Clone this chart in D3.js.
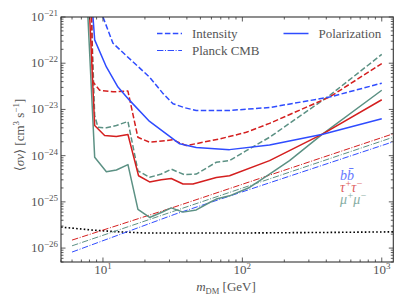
<!DOCTYPE html>
<html>
<head>
<meta charset="utf-8">
<script src="https://cdn.jsdelivr.net/npm/d3@7"></script>
<style>
  body { margin: 0; background: #fff; }
  text { font-family: "Liberation Serif", "DejaVu Serif", serif; fill: #555; }
</style>
</head>
<body>
<script>
// values (mass in GeV, <sigma v> in cm^3/s)

// b bbar
const bbIntMass = [10, 11.8, 14.9, 21.6, 27.0, 31.8, 38.5, 46.7, 80.9, 156.7, 421.8, 1000];
const bbIntSigma = [1e-21, 2.7e-22, 1.4e-22, 5.0e-23, 2.2e-23, 1.33e-23, 1.09e-23, 9.5e-24, 9.5e-24, 1.1e-23, 1.85e-23, 3.7e-23];
const bbPolMass = [8.48, 8.72, 10.58, 12.81, 15.54, 21.6, 35.5, 46.7, 80.9, 156.7, 377.6, 1000];
const bbPolSigma = [1e-21, 3.2e-22, 8.3e-23, 3.05e-23, 1.57e-23, 5.5e-24, 1.8e-24, 1.5e-24, 1.35e-24, 1.7e-24, 2.9e-24, 6.3e-24];
const bbCmbMass = [6, 32.8, 1300];
const bbCmbSigma = [8.2e-27, 5.4e-26, 2.15e-24];

// tau tau
const ttIntMass = [8.3, 8.45, 9.47, 11.8, 15.1, 17.8, 21.6, 31.8, 39.6, 68.7, 106.7, 156.7, 421.8, 1000];
const ttIntSigma = [1e-21, 4.0e-23, 2.6e-23, 2.4e-23, 2.5e-23, 2.5e-24, 1.95e-24, 2.2e-24, 1.65e-24, 2.3e-24, 3.2e-24, 5.0e-24, 1.85e-23, 9.8e-23];
const ttPolMass = [8.03, 8.72, 10.28, 12.48, 15.11, 18.0, 21.6, 26.2, 30.9, 37.5, 44.2, 65.0, 80.9, 156.7, 377.6, 1000];
const ttPolSigma = [1e-21, 4.5e-24, 2.72e-24, 2.59e-24, 2.86e-24, 3.67e-25, 2.7e-25, 3.0e-25, 3.2e-25, 2.43e-25, 2.43e-25, 3.37e-25, 3.67e-25, 7.8e-25, 2.96e-24, 1.62e-23];
const ttCmbMass = [6, 32.8, 1300];
const ttCmbSigma = [1.49e-26, 7.8e-26, 3.2e-24];

// mu mu
const mmIntMass = [8.26, 8.72, 9.21, 10.58, 12.48, 15.11, 17.82, 21.6, 26.2, 30.9, 38.2, 46.7, 65.0, 80.9, 106.7, 156.7, 421.8, 1000];
const mmIntSigma = [1e-21, 7.4e-24, 4.1e-24, 4.0e-24, 4.5e-24, 5.5e-24, 4.7e-25, 3.4e-25, 4.0e-25, 5.1e-25, 3.9e-25, 4.0e-25, 7.2e-25, 7.8e-25, 1.28e-24, 2.5e-24, 2.0e-23, 1.55e-22];
const mmPolMass = [7.8, 8.72, 10.58, 12.48, 15.11, 17.82, 21.6, 26.2, 30.9, 37.5, 46.7, 58.2, 65.0, 80.9, 112.6, 156.7, 218, 377.6, 1000];
const mmPolSigma = [1e-21, 9.2e-25, 4.5e-25, 4.9e-25, 6.4e-25, 6.9e-26, 4.6e-26, 5.9e-26, 7.4e-26, 6.0e-26, 6.7e-26, 9.7e-26, 1.15e-25, 1.35e-25, 2.05e-25, 4.0e-25, 7.8e-25, 2.96e-24, 2.6e-23];
const mmCmbMass = [6, 32.8, 1300];
const mmCmbSigma = [1.12e-26, 6.4e-26, 2.7e-24];

// thermal relic
const relicMass = [5, 8.3, 12.2, 20, 100, 400, 1300];
const relicSigma = [2.85e-26, 2.46e-26, 2.27e-26, 2.12e-26, 2.12e-26, 2.18e-26, 2.25e-26];

const xMajor = [10, 100, 1000];
const xMajorExp = ["1", "2", "3"];
const yMajor = [1e-26, 1e-25, 1e-24, 1e-23, 1e-22, 1e-21];
const yMajorExp = ["\u221226", "\u221225", "\u221224", "\u221223", "\u221222", "\u221221"];

const blue = "#2f4cff", red = "#d41f1f", green = "#5c9184";

const W = 407, H = 305;
const L = 61, R = 393.3, T = 17, B = 262;

const svg = d3.select("body").append("svg").attr("width", W).attr("height", H);

const x = d3.scaleLog().domain([5, 1210]).range([L, R]);
const y = d3.scaleLog().domain([5e-27, 1e-21]).range([B, T]);

svg.append("clipPath").attr("id", "clip")
  .append("rect").attr("x", L).attr("y", T).attr("width", R - L).attr("height", B - T);

const plot = svg.append("g").attr("clip-path", "url(#clip)");
const line = d3.line().x(d => x(d[0])).y(d => y(d[1]));

function curve(ms, ss, color, width, dash) {
  plot.append("path")
    .datum(ms.map((m, i) => [m, ss[i]]))
    .attr("d", line)
    .attr("fill", "none")
    .attr("stroke", color)
    .attr("stroke-width", width)
    .attr("stroke-dasharray", dash)
    .attr("stroke-linejoin", "round");
}

const dashed = "5.5,2.4", dashdot = "6.4,1.6,1,1.6";

// thermal relic
curve(relicMass, relicSigma, "#000", 1.6, "1.6,2.2");

// Planck CMB
curve(bbCmbMass, bbCmbSigma, blue, 1, dashdot);
curve(mmCmbMass, mmCmbSigma, green, 1, dashdot);
curve(ttCmbMass, ttCmbSigma, red, 1, dashdot);

// intensity
curve(mmIntMass, mmIntSigma, green, 1.5, dashed);
curve(ttIntMass, ttIntSigma, red, 1.5, dashed);
curve(bbIntMass, bbIntSigma, blue, 1.5, dashed);

// polarization
curve(mmPolMass, mmPolSigma, green, 1.5, null);
curve(ttPolMass, ttPolSigma, red, 1.5, null);
curve(bbPolMass, bbPolSigma, blue, 1.5, null);

// ticks on all four sides, pointing in
const ticks = svg.append("g").attr("stroke", "#333").attr("stroke-width", 0.8);
const isMajor = v => Math.abs(Math.log10(v) - Math.round(Math.log10(v))) < 1e-6;
x.ticks().forEach(v => {
  const len = isMajor(v) ? 4.5 : 2.5, px = x(v);
  ticks.append("line").attr("x1", px).attr("x2", px).attr("y1", B).attr("y2", B - len);
  ticks.append("line").attr("x1", px).attr("x2", px).attr("y1", T).attr("y2", T + len);
});
y.ticks().forEach(v => {
  const len = isMajor(v) ? 4.5 : 2.5, py = y(v);
  ticks.append("line").attr("y1", py).attr("y2", py).attr("x1", L).attr("x2", L + len);
  ticks.append("line").attr("y1", py).attr("y2", py).attr("x1", R).attr("x2", R - len);
});

svg.append("rect").attr("x", L).attr("y", T).attr("width", R - L).attr("height", B - T)
  .attr("fill", "none").attr("stroke", "#333").attr("stroke-width", 1.1);

// tick labels
xMajor.forEach((v, i) => {
  const t = svg.append("text").attr("x", x(v)).attr("y", 274).attr("text-anchor", "middle")
    .attr("font-size", 13);
  t.append("tspan").text("10");
  t.append("tspan").attr("dy", -5).attr("font-size", 9).text(xMajorExp[i]);
});
yMajor.forEach((v, i) => {
  const t = svg.append("text").attr("x", 58).attr("y", y(v) + 4).attr("text-anchor", "end")
    .attr("font-size", 13);
  t.append("tspan").text("10");
  t.append("tspan").attr("dy", -5).attr("font-size", 9).text(yMajorExp[i]);
});

// axis labels
const xl = svg.append("text").attr("x", 226).attr("y", 291).attr("text-anchor", "middle").attr("font-size", 13);
xl.append("tspan").attr("font-style", "italic").text("m");
xl.append("tspan").attr("dy", 2.5).attr("font-size", 8.5).text("DM");
xl.append("tspan").attr("dy", -2.5).text(" [GeV]");

const yl = svg.append("text").attr("transform", "translate(24,135) rotate(-90)")
  .attr("text-anchor", "middle").attr("font-size", 13);
yl.append("tspan").text("\u27e8");
yl.append("tspan").attr("font-style", "italic").text("\u03c3v");
yl.append("tspan").text("\u27e9 [cm");
yl.append("tspan").attr("dy", -5).attr("font-size", 9).text("3");
yl.append("tspan").attr("dy", 5).text(" s");
yl.append("tspan").attr("dy", -5).attr("font-size", 9).text("\u22121");
yl.append("tspan").attr("dy", 5).text("]");

// legend
const legendRows = [
  { label: "Intensity", dash: dashed, w: 1.5, lx: 157, ty: 33.5 },
  { label: "Planck CMB", dash: dashdot, w: 1, lx: 157, ty: 50.5 },
  { label: "Polarization", dash: null, w: 1.5, lx: 283.5, ty: 33.5 }
];
legendRows.forEach(r => {
  svg.append("line").attr("x1", r.lx).attr("x2", r.lx + 25).attr("y1", r.ty).attr("y2", r.ty)
    .attr("stroke", blue).attr("stroke-width", r.w).attr("stroke-dasharray", r.dash);
  svg.append("text").attr("x", r.lx + 35).attr("y", r.ty + 4.5).attr("font-size", 13).text(r.label);
});

// channel labels, one text each (superscripts via dy)
const chanLabels = [
  { base: ["b", "b\u0304"], sup: ["", ""], color: blue, ty: 179.5 },
  { base: ["\u03c4", "\u03c4"], sup: ["+", "\u2212"], color: red, ty: 192 },
  { base: ["\u03bc", "\u03bc"], sup: ["+", "\u2212"], color: green, ty: 204 }
];
chanLabels.forEach(c => {
  const t = svg.append("text").attr("x", 340).attr("y", c.ty).attr("font-size", 14)
    .style("fill", c.color).attr("opacity", 0.75);
  let shift = 0;
  c.base.forEach((b, i) => {
    t.append("tspan").attr("dy", shift).attr("font-style", "italic").text(b);
    shift = 0;
    if (c.sup[i]) {
      t.append("tspan").attr("dy", -5).attr("dx", 0.5).attr("font-size", 10).text(c.sup[i]);
      shift = 5;
    }
  });
});
</script>
</body>
</html>
